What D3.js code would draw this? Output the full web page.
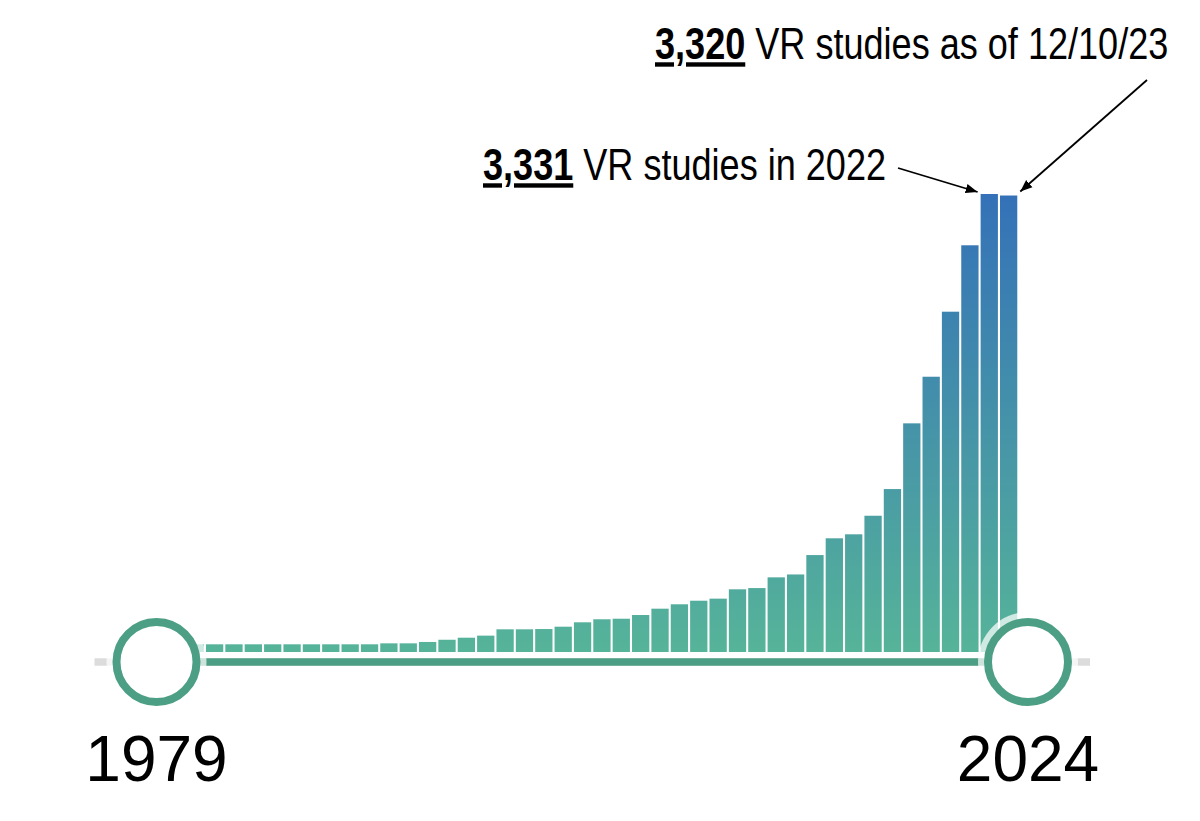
<!DOCTYPE html>
<html>
<head>
<meta charset="utf-8">
<script src="https://cdn.jsdelivr.net/npm/d3@7"></script>
<style>
  html, body { margin: 0; padding: 0; background: #fff; }
  svg { display: block; }
</style>
</head>
<body>
<svg id="chart" width="1200" height="821"></svg>
<script>
// VR studies per year
const years = [
  1979, 1980, 1981, 1982, 1983, 1984, 1985, 1986, 1987, 1988,
  1989, 1990, 1991, 1992, 1993, 1994, 1995, 1996, 1997, 1998,
  1999, 2000, 2001, 2002, 2003, 2004, 2005, 2006, 2007, 2008,
  2009, 2010, 2011, 2012, 2013, 2014, 2015, 2016, 2017, 2018,
  2019, 2020, 2021, 2022, 2023
];
const studies = [
  56, 56, 56, 56, 56, 56, 56, 56, 56, 56,
  56, 56, 63, 63, 73, 89, 104, 119, 165, 165,
  167, 184, 216, 238, 242, 269, 315, 347, 373, 388,
  456, 465, 543, 564, 705, 827, 856, 991, 1185, 1663,
  2002, 2475, 2958, 3331, 3320
];
const endYears = [1979, 2024];
const endLabels = ["1979", "2024"];
const noteYears = [2022, 2023];
const noteNums = ["3,331", "3,320"];
const noteTexts = [" VR studies in 2022", " VR studies as of 12/10/23"];

const svg = d3.select("#chart");
const green = "#4c9f84";

const x = d3.scalePoint()
  .domain(years.concat([2024]))
  .range([156.5, 1028]);
const bw = x.step() * 0.893;

const y = d3.scaleLinear()
  .domain([0, d3.max(studies)])
  .range([652, 194]);

const defs = svg.append("defs");
const grad = defs.append("linearGradient")
  .attr("id", "barGrad")
  .attr("gradientUnits", "userSpaceOnUse")
  .attr("x1", 0).attr("x2", 0)
  .attr("y1", y(0)).attr("y2", y(d3.max(studies)));
grad.append("stop").attr("offset", "0%").attr("stop-color", "#56b499");
grad.append("stop").attr("offset", "100%").attr("stop-color", "#3471b8");

// timeline track
const lineY = 662;
svg.append("line")
  .attr("x1", x(1979) - 62).attr("x2", x(2024) + 62)
  .attr("y1", lineY).attr("y2", lineY)
  .attr("stroke", "#dcdcdc").attr("stroke-width", 7.5);
svg.append("line")
  .attr("x1", x(1979)).attr("x2", x(2024))
  .attr("y1", lineY).attr("y2", lineY)
  .attr("stroke", green).attr("stroke-width", 7.5);

const data = years.map((yr, i) => ({ year: yr, value: studies[i] }));

svg.selectAll(".bar")
  .data(data)
  .join("rect")
  .attr("class", "bar")
  .attr("x", d => x(d.year) - bw / 2)
  .attr("width", bw)
  .attr("y", d => y(d.value))
  .attr("height", d => y(0) - y(d.value))
  .attr("fill", "url(#barGrad)");

// end markers
const ends = svg.selectAll(".end")
  .data(endYears)
  .join("g")
  .attr("class", "end")
  .attr("transform", d => `translate(${x(d)},${lineY})`);
ends.append("circle")
  .attr("r", 50)
  .attr("fill", "#fff")
  .attr("fill-opacity", 0.72);
ends.append("circle")
  .attr("r", 40)
  .attr("fill", "#fff")
  .attr("stroke", green)
  .attr("stroke-width", 8);

svg.selectAll(".endLabel")
  .data(endYears)
  .join("text")
  .attr("class", "endLabel")
  .attr("x", d => x(d))
  .attr("y", 781)
  .attr("text-anchor", "middle")
  .attr("font-family", "'Liberation Sans', Arial, sans-serif")
  .attr("font-size", 64)
  .attr("fill", "#000")
  .text((d, i) => endLabels[i]);

// annotations
defs.append("marker")
  .attr("id", "head")
  .attr("viewBox", "0 0 10 10")
  .attr("refX", 10).attr("refY", 5)
  .attr("markerWidth", 12).attr("markerHeight", 12)
  .attr("markerUnits", "userSpaceOnUse")
  .attr("orient", "auto")
  .append("path")
  .attr("d", "M0,1 L10,5 L0,9 Z")
  .attr("fill", "#000");

const notePos = [
  { tx: 483, ty: 180, x1: 898, y1: 168 },
  { tx: 655, ty: 59, x1: 1147, y1: 80 }
];
const tips = [
  [x(2022) - bw / 2 - 3, y(3331) - 2],
  [x(2023) + bw / 2 + 3, y(3320) - 4]
];

noteYears.forEach((yr, i) => {
  // condensed face is not installed, so squeeze a regular one
  const t = svg.append("text")
    .attr("transform", `translate(${notePos[i].tx},${notePos[i].ty}) scale(0.82,1)`)
    .attr("font-family", "'Liberation Sans', Arial, sans-serif")
    .attr("font-size", 44)
    .attr("fill", "#000");
  t.append("tspan")
    .attr("font-weight", "bold")
    .style("text-decoration", "underline")
    .text(noteNums[i]);
  t.append("tspan").text(noteTexts[i]);

  svg.append("line")
    .attr("x1", notePos[i].x1).attr("y1", notePos[i].y1)
    .attr("x2", tips[i][0]).attr("y2", tips[i][1])
    .attr("stroke", "#000")
    .attr("stroke-width", 1.8)
    .attr("marker-end", "url(#head)");
});
</script>
</body>
</html>
